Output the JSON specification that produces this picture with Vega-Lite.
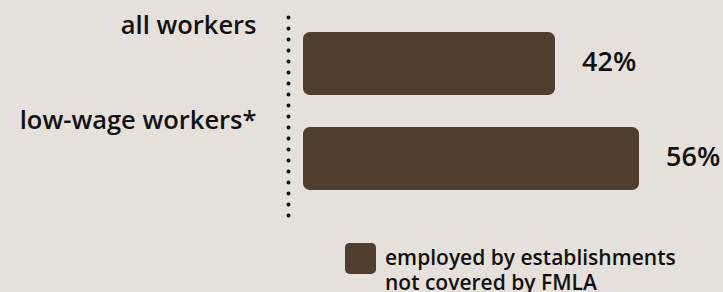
{
  "$schema": "https://vega.github.io/schema/vega-lite/v6.json",
  "width": 420,
  "height": 205,
  "autosize": {"type": "none"},
  "padding": {"left": 303, "top": 17, "right": 0, "bottom": 70},
  "background": "#e6e0da",
  "config": {"view": {"stroke": null}, "font": "Open Sans"},
  "data": {
    "values": [
      {"group": "all workers", "share": 42, "label": "42%", "category": "employed by establishments not covered by FMLA"},
      {"group": "low-wage workers*", "share": 56, "label": "56%", "category": "employed by establishments not covered by FMLA"}
    ]
  },
  "encoding": {
    "y": {
      "field": "group",
      "type": "nominal",
      "sort": null,
      "scale": {"paddingInner": 0.337, "paddingOuter": 0.247, "align": 0.32},
      "axis": {
        "title": null,
        "ticks": false,
        "domain": true,
        "domainColor": "#111111",
        "domainWidth": 4,
        "domainDash": [0, 11],
        "domainCap": "round",
        "offset": 15,
        "labelFont": "Open Sans",
        "labelFontSize": 25.5,
        "labelFontWeight": 600,
        "labelColor": "#111111",
        "labelPadding": 32,
        "labelOffset": -38,
        "labelBaseline": "middle",
        "labelLimit": 400
      }
    },
    "x": {
      "field": "share",
      "type": "quantitative",
      "scale": {"domain": [0, 70]},
      "axis": null
    }
  },
  "layer": [
    {
      "mark": {"type": "bar", "cornerRadius": 7},
      "encoding": {
        "color": {
          "field": "category",
          "type": "nominal",
          "scale": {"range": ["#4e3f2e"]},
          "legend": {
            "orient": "none",
            "legendX": 42,
            "legendY": 226,
            "title": null,
            "symbolType": "M -0.7 -1 L 0.7 -1 A 0.3 0.3 0 0 1 1 -0.7 L 1 0.7 A 0.3 0.3 0 0 1 0.7 1 L -0.7 1 A 0.3 0.3 0 0 1 -1 0.7 L -1 -0.7 A 0.3 0.3 0 0 1 -0.7 -1 Z",
            "symbolSize": 961,
            "symbolStrokeWidth": 0,
            "symbolOpacity": 1,
            "labelFont": "Open Sans",
            "labelFontSize": 21,
            "labelFontWeight": 600,
            "labelColor": "#111111",
            "labelOffset": 9,
            "labelLimit": 400,
            "labelBaseline": "alphabetic",
            "labelExpr": "['employed by establishments', 'not covered by FMLA']",
            "encode": {"labels": {"update": {"dy": {"value": 6}, "lineHeight": {"value": 25}}}}
          }
        }
      }
    },
    {
      "mark": {
        "type": "text",
        "align": "left",
        "baseline": "middle",
        "dx": 27,
        "dy": -1,
        "fontSize": 27,
        "fontWeight": 600,
        "color": "#111111"
      },
      "encoding": {"text": {"field": "label"}}
    }
  ]
}
